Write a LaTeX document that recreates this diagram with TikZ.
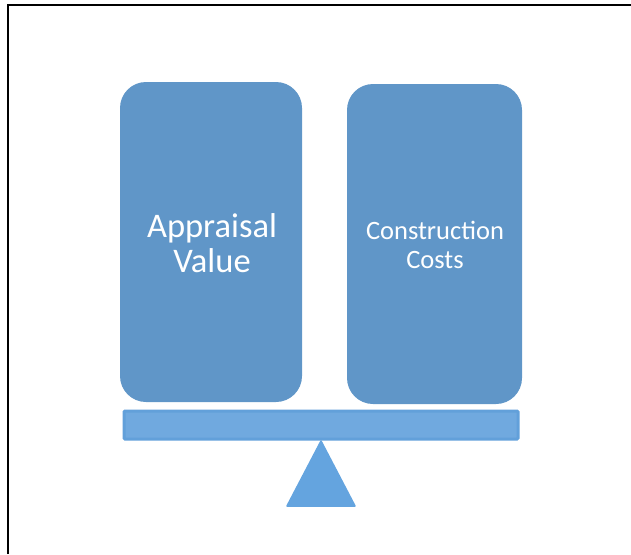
\documentclass[tikz,border=0pt]{standalone}
\usepackage{fontspec}
\setmainfont{Carlito}
\definecolor{boxblue}{HTML}{6096C8}
\definecolor{beamfill}{HTML}{70A9DF}
\definecolor{beamline}{HTML}{62A0DA}
\definecolor{pivotblue}{HTML}{64A4DF}
\begin{document}
\begin{tikzpicture}[x=1pt,y=-1pt,
  weight/.style={fill=boxblue, rounded corners=26pt, draw=none},
  label/.style={text=white, align=center, inner sep=0pt}]
\useasboundingbox (0,0) rectangle (631,554);
% frame (top and left edges)
\draw[line width=2pt] (8,554) -- (8,5) -- (631,5);
% the two weights
\path[weight] (120,82) rectangle (302,402);
\path[weight] (347,84) rectangle (522,404);
\node[label, font=\fontsize{34.5}{35}\selectfont] (appraisal) at (212,243) {Appraisal\\Value};
\node[label, font=\fontsize{26.5}{29}\selectfont] (costs) at (435,245) {Construction\\Costs};
% beam
\draw[fill=beamfill, draw=beamline, line width=3pt, rounded corners=1pt] (124,411) rectangle (518,439);
% pivot
\draw[fill=pivotblue, draw=pivotblue, line width=1.5pt, line join=round] (321,441) -- (355,506) -- (287,506) -- cycle;
\end{tikzpicture}
\end{document}
